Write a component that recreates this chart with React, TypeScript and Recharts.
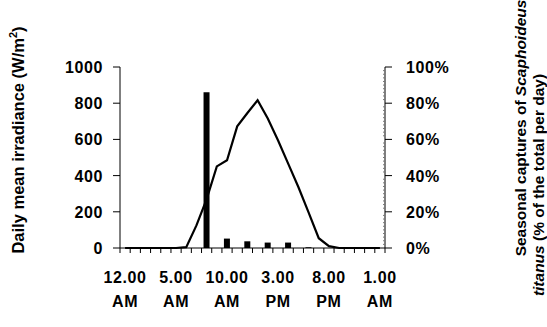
import { Bar, ComposedChart, Line, XAxis, YAxis } from "recharts";

// hourly categories, 12 AM through 1 AM next day
const hours = [
  "12.00 AM", "1.00 AM", "2.00 AM", "3.00 AM", "4.00 AM", "5.00 AM",
  "6.00 AM", "7.00 AM", "8.00 AM", "9.00 AM", "10.00 AM", "11.00 AM",
  "12.00 PM", "1.00 PM", "2.00 PM", "3.00 PM", "4.00 PM", "5.00 PM",
  "6.00 PM", "7.00 PM", "8.00 PM", "9.00 PM", "10.00 PM", "11.00 PM",
  "12.00 AM", "1.00 AM",
];
// W/m2
const irradiance = [
  0, 0, 0, 0, 0, 0, 5, 125, 270, 451, 485, 672, 746, 816, 715, 595, 466, 337,
  197, 54, 10, 0, 0, 0, 0, 0,
];
// % of daily captures
const captures = [
  0, 0, 0, 0, 0, 0, 0, 0, 86, 0, 5.2, 0, 3.7, 0, 3, 0, 3, 0, 0.4, 0, 0, 0, 0,
  0, 0, 0,
];
const leftTicks = [0, 200, 400, 600, 800, 1000];
const labelEvery = 5;

const data = hours.map((h, i) => ({
  pos: i + 0.5,
  hour: h,
  irradiance: irradiance[i],
  captures: captures[i],
}));

const font = "'Liberation Sans', Arial, sans-serif";
const boundaryTicks = hours.map((_, i) => i).concat(hours.length);
const labelTicks = hours
  .map((_, i) => i)
  .filter((i) => i % labelEvery === 0)
  .map((i) => i + 0.5);
const rightTicks = Array.from({ length: 51 }, (_, i) => i * 2);

const labelStyle = {
  fontFamily: font,
  fontWeight: "bold",
  fontSize: 16,
  letterSpacing: 0.6,
  fill: "#000",
};

function NoTick() {
  return <g />;
}

function HourTick({ x, y, payload }: any) {
  const [time, ampm] = hours[Math.round(payload.value - 0.5)].split(" ");
  return (
    <text x={x} y={y} textAnchor="middle" style={labelStyle}>
      <tspan x={x} dy={21}>{time}</tspan>
      <tspan x={x} dy={24}>{ampm}</tspan>
    </text>
  );
}

function LeftTick({ x, y, payload }: any) {
  return (
    <text x={x} y={y} dy={6} textAnchor="end" style={labelStyle}>
      {payload.value}
    </text>
  );
}

function RightTick({ x, y, payload }: any) {
  const v = payload.value;
  if (v % 20 !== 0) {
    return <line x1={x - 2} x2={x} y1={y} y2={y} stroke="#777" strokeWidth={1} />;
  }
  return (
    <g>
      <line x1={x} x2={x + 7} y1={y} y2={y} stroke="#000" strokeWidth={1} />
      <text x={x + 21} y={y} dy={6} textAnchor="start" style={labelStyle}>
        {v}%
      </text>
    </g>
  );
}

function LeftTitle({ viewBox }: any) {
  const cx = viewBox.x + 24;
  const cy = 140;
  return (
    <text
      x={cx}
      y={cy}
      transform={`rotate(-90 ${cx} ${cy})`}
      textAnchor="middle"
      fontFamily={font}
      fontWeight="bold"
      fontSize={16.5}
      fill="#000"
    >
      Daily mean irradiance (W/m
      <tspan dy={-7} fontSize={11}>2</tspan>
      <tspan dy={7}>)</tspan>
    </text>
  );
}

function RightTitle({ viewBox }: any) {
  const x1 = viewBox.x + 141;
  const y1 = 128;
  const x2 = viewBox.x + 159;
  const y2 = 185;
  return (
    <g fontFamily={font} fontWeight="bold" fontSize={15.5} fill="#000">
      <text
        x={x1}
        y={y1}
        transform={`rotate(-90 ${x1} ${y1})`}
        textAnchor="middle"
      >
        Seasonal captures of <tspan fontStyle="italic">Scaphoideus</tspan>
      </text>
      <text
        x={x2}
        y={y2}
        transform={`rotate(-90 ${x2} ${y2})`}
        textAnchor="middle"
      >
        <tspan fontStyle="italic">titanus</tspan>  (% of the total per day)
      </text>
    </g>
  );
}

export default function App() {
  return (
    <div style={{ position: "absolute", left: 0, top: 0, background: "#fff" }}>
      <ComposedChart
        width={547}
        height={327}
        data={data}
        margin={{ top: 67, right: 0, bottom: 0, left: 0 }}
      >
        <XAxis
          xAxisId="grid"
          dataKey="pos"
          type="number"
          domain={[0, hours.length]}
          ticks={boundaryTicks}
          interval={0}
          tick={<NoTick />}
          tickSize={5}
          height={6}
          stroke="#000"
          allowDataOverflow
        />
        <XAxis
          xAxisId="hours"
          dataKey="pos"
          type="number"
          domain={[0, hours.length]}
          ticks={labelTicks}
          interval={0}
          axisLine={false}
          tickLine={false}
          tick={<HourTick />}
          height={73}
          allowDataOverflow
        />
        <YAxis
          yAxisId="left"
          domain={[0, 1000]}
          ticks={leftTicks}
          interval={0}
          width={120}
          tickSize={7}
          tickMargin={10}
          stroke="#000"
          tick={<LeftTick />}
          label={<LeftTitle />}
        />
        <YAxis
          yAxisId="right"
          orientation="right"
          domain={[0, 100]}
          ticks={rightTicks}
          interval={0}
          width={162}
          tickSize={0}
          tickMargin={0}
          tickLine={false}
          stroke="#000"
          tick={<RightTick />}
          label={<RightTitle />}
        />
        <Bar
          xAxisId="hours"
          yAxisId="right"
          dataKey="captures"
          fill="#000"
          barSize={6}
          isAnimationActive={false}
        />
        <Line
          xAxisId="grid"
          yAxisId="left"
          type="linear"
          dataKey="irradiance"
          stroke="#000"
          strokeWidth={2.2}
          dot={false}
          isAnimationActive={false}
        />
      </ComposedChart>
    </div>
  );
}
